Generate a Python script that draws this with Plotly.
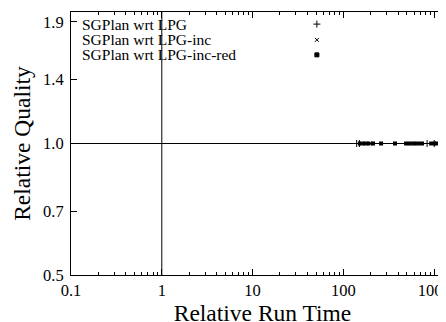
import plotly.graph_objects as go
import math

# Data (relative run time, relative quality)
lpg_x = [140, 150, 835, 1000, 1180]
lpg_y = [1.0, 1.0, 1.0, 1.0, 1.0]
inc_x = [160, 195, 600, 1080, 1300]
inc_y = [1.0, 1.0, 1.0, 1.0, 1.0]
red_x = [152, 169, 187, 212, 260, 370, 490, 540, 600, 665, 735, 925, 1020, 1130, 1250, 1340]
red_y = [1.0] * 16

series_names = ["SGPlan wrt LPG", "SGPlan wrt LPG-inc", "SGPlan wrt LPG-inc-red"]
y_ticks = [0.5, 0.7, 1.0, 1.4, 1.9]
x_ticks = [0.1, 1, 10, 100, 1000]
x_minor = [m * 10 ** e for e in range(-1, 4) for m in range(2, 10)]

FONT = "Liberation Serif"
mk = dict(color="black", line=dict(color="black", width=1))

fig = go.Figure()
fig.add_trace(go.Scatter(x=lpg_x, y=lpg_y, mode="markers", name=series_names[0],
                         marker=dict(symbol="cross-thin", size=5, **mk), showlegend=False))
fig.add_trace(go.Scatter(x=inc_x, y=inc_y, mode="markers", name=series_names[1],
                         marker=dict(symbol="x-thin", size=4, **mk), showlegend=False))
fig.add_trace(go.Scatter(x=red_x, y=red_y, mode="markers", name=series_names[2],
                         marker=dict(symbol="square", size=4, color="black"), showlegend=False))

# custom gnuplot-style key (text left, symbol right) on a hidden helper axis
key_syms = [("cross-thin", 5), ("x-thin", 4), ("square", 4)]
key_y = [0.954, 0.894, 0.837]
for (sym, sz), ky, nm in zip(key_syms, key_y, series_names):
    fig.add_trace(go.Scatter(x=[0.642], y=[ky], mode="markers", xaxis="x2", yaxis="y2",
                             marker=dict(symbol=sym, size=sz, color="black",
                                         line=dict(color="black", width=1)),
                             showlegend=False, hoverinfo="skip"))
    fig.add_annotation(x=0.0235, y=ky, xref="x2", yref="y2", text=nm, showarrow=False,
                       xanchor="left", yanchor="middle",
                       font=dict(family=FONT, size=15.5, color="black"))

# reference lines
fig.add_shape(type="line", xref="x", yref="paper", x0=1, x1=1, y0=0, y1=1,
              line=dict(color="black", width=1))
fig.add_shape(type="line", xref="paper", yref="y", x0=0, x1=1, y0=1, y1=1,
              line=dict(color="black", width=1))

# page body has an 8px margin: plot area runs off the right edge like the reference
xmax = -1 + 383 / 90.8
fig.update_layout(
    width=446, height=322,
    margin=dict(l=63, r=0, t=4, b=55, autoexpand=False),
    paper_bgcolor="white", plot_bgcolor="white",
    font=dict(family=FONT, color="black"),
    xaxis=dict(type="log", range=[-1, xmax], tickvals=x_ticks,
               ticktext=[str(v) for v in x_ticks],
               ticks="inside", ticklen=6, tickcolor="black",
               minor=dict(tickvals=x_minor, ticks="inside", ticklen=3, tickcolor="black", showgrid=False),
               showline=True, linecolor="black", linewidth=1, mirror="ticks",
               showgrid=False, zeroline=False, automargin=False,
               tickfont=dict(family=FONT, size=16.5),
               title=dict(text="Relative Run Time", font=dict(family=FONT, size=23.5), standoff=4)),
    yaxis=dict(type="log", range=[math.log10(0.5), math.log10(2.0)], tickvals=y_ticks,
               ticktext=["%.1f" % v for v in y_ticks],
               ticks="inside", ticklen=6, tickcolor="black", ticklabelstandoff=3,
               showline=True, linecolor="black", linewidth=1,
               showgrid=False, zeroline=False, automargin=False,
               tickfont=dict(family=FONT, size=16.5),
               title=dict(text="Relative Quality", font=dict(family=FONT, size=23.5), standoff=5)),
    xaxis2=dict(domain=[0, 1], range=[0, 1], visible=False, overlaying="x"),
    yaxis2=dict(domain=[0, 1], range=[0, 1], visible=False, overlaying="y"),
)

fig.write_html("out.html")
